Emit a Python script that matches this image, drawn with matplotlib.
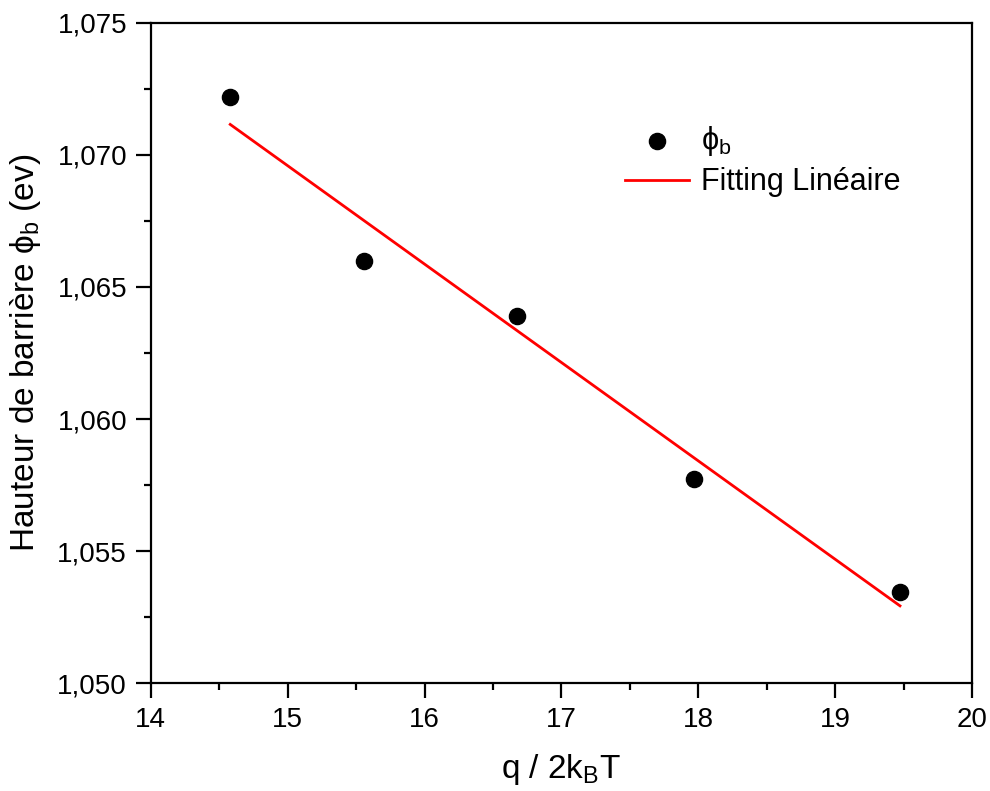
import numpy as np
import matplotlib.pyplot as plt
from matplotlib.ticker import MultipleLocator, FuncFormatter

plt.rcParams['font.family'] = ['Liberation Sans', 'DejaVu Sans']
plt.rcParams['mathtext.fontset'] = 'custom'
plt.rcParams['mathtext.rm'] = 'Liberation Sans'
plt.rcParams['mathtext.it'] = 'Liberation Sans:italic'

# barrier height vs q/2kT
x_pts = [14.581, 15.560, 16.677, 17.966, 19.472]
phi_b = [1.07220, 1.06598, 1.06391, 1.05772, 1.05346]

# linear fit endpoints
fit_x = [14.581, 19.472]
fit_y = [1.07115, 1.05293]

fig = plt.figure(figsize=(9.9, 7.91), dpi=100)
ax = fig.add_axes([0.1522, 0.1362, 0.8299, 0.8351])

ax.scatter(x_pts, phi_b, s=135, color='black', zorder=3, label=r'$\mathrm{\phi_b}$')
ax.plot(fit_x, fit_y, color='#ff0000', lw=2.0, label='Fitting Linéaire')

ax.set_xlim(14, 20)
ax.set_ylim(1.050, 1.075)
ax.xaxis.set_major_locator(MultipleLocator(1))
ax.xaxis.set_minor_locator(MultipleLocator(0.5))
ax.yaxis.set_major_locator(MultipleLocator(0.005))
ax.yaxis.set_minor_locator(MultipleLocator(0.0025))
ax.yaxis.set_major_formatter(FuncFormatter(lambda v, p: f'{v:.3f}'.replace('.', ',')))

for s in ax.spines.values():
    s.set_linewidth(1.6)
ax.tick_params(which='both', direction='out', width=1.6, labelsize=20, top=False, right=False)
ax.tick_params(which='major', length=11, pad=6)
ax.tick_params(which='minor', length=5)

ax.set_xlabel(r'q / 2k$_\mathrm{B}$T', fontsize=24, labelpad=14)
ax.set_ylabel(r'Hauteur de barrière $\mathrm{\phi_b}$ (ev)', fontsize=24, labelpad=10)

ax.legend(loc='upper left', bbox_to_anchor=(0.562, 0.865), frameon=False, fontsize=22,
          handlelength=2.1, handletextpad=0.4, labelspacing=0.3, borderaxespad=0)

fig.savefig('out.png', dpi=100)
